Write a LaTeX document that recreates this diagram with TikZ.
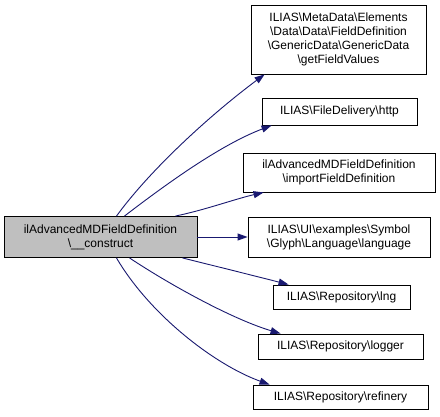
\documentclass[tikz,border=0pt]{standalone}
\usepackage{fontspec}
\setmainfont{Liberation Sans}
\usetikzlibrary{arrows.meta}
\definecolor{edgeblue}{HTML}{191970}
\definecolor{srcgray}{HTML}{BFBFBF}
\begin{document}
\begin{tikzpicture}[x=1pt,y=-1pt,
  box/.style={draw=black,line width=0.9pt,fill=white,inner sep=0pt,align=center,
    font=\fontsize{12}{14}\selectfont},
  edge/.style={draw=edgeblue,line width=0.9pt,-{Triangle[length=10pt,width=7pt]}}]
\useasboundingbox (0,0) rectangle (440,417);
\fill[white] (0,0) rectangle (440,417);
\node[box,fill=srcgray,minimum width=193pt,minimum height=41pt] (src) at (100.5,237) {ilAdvancedMDFieldDefinition\\\textbackslash\_\_construct};
\node[box,minimum width=175pt,minimum height=69pt] (t1) at (338.5,39.5) {ILIAS\textbackslash MetaData\textbackslash Elements\\\textbackslash Data\textbackslash Data\textbackslash FieldDefinition\\\textbackslash GenericData\textbackslash GenericData\\\textbackslash getFieldValues};
\node[box,minimum width=155pt,minimum height=27pt] (t2) at (339.5,111.5) {ILIAS\textbackslash FileDelivery\textbackslash http};
\node[box,minimum width=192pt,minimum height=39pt] (t3) at (339,172.5) {ilAdvancedMDFieldDefinition\\\textbackslash importFieldDefinition};
\node[box,minimum width=182pt,minimum height=40pt] (t4) at (339,237) {ILIAS\textbackslash UI\textbackslash examples\textbackslash Symbol\\\textbackslash Glyph\textbackslash Language\textbackslash language};
\node[box,minimum width=137pt,minimum height=24pt] (t5) at (341.5,297) {ILIAS\textbackslash Repository\textbackslash lng};
\node[box,minimum width=165pt,minimum height=25pt] (t6) at (340.5,346.5) {ILIAS\textbackslash Repository\textbackslash logger};
\node[box,minimum width=175pt,minimum height=24pt] (t7) at (340.5,397) {ILIAS\textbackslash Repository\textbackslash refinery};
\draw[edge] ([xshift=16pt]src.north) .. controls (150,170) and (210,115) .. ([xshift=14pt]t1.south west);
\draw[edge] ([xshift=24pt]src.north) .. controls (165,185) and (220,145) .. ([xshift=10pt]t2.south west);
\draw[edge] ([xshift=-22pt]src.north east) .. controls (205,210) and (235,199) .. ([xshift=21pt]t3.south west);
\draw[edge] (src.east) -- (t4.west);
\draw[edge] ([xshift=-15pt]src.south east) .. controls (215,266) and (255,276) .. ([xshift=16pt]t5.north west);
\draw[edge] ([xshift=29pt]src.south) .. controls (175,288) and (235,320) .. ([xshift=23pt]t6.north west);
\draw[edge] ([xshift=16pt]src.south) .. controls (150,315) and (215,365) .. ([xshift=17pt]t7.north west);
\end{tikzpicture}
\end{document}
